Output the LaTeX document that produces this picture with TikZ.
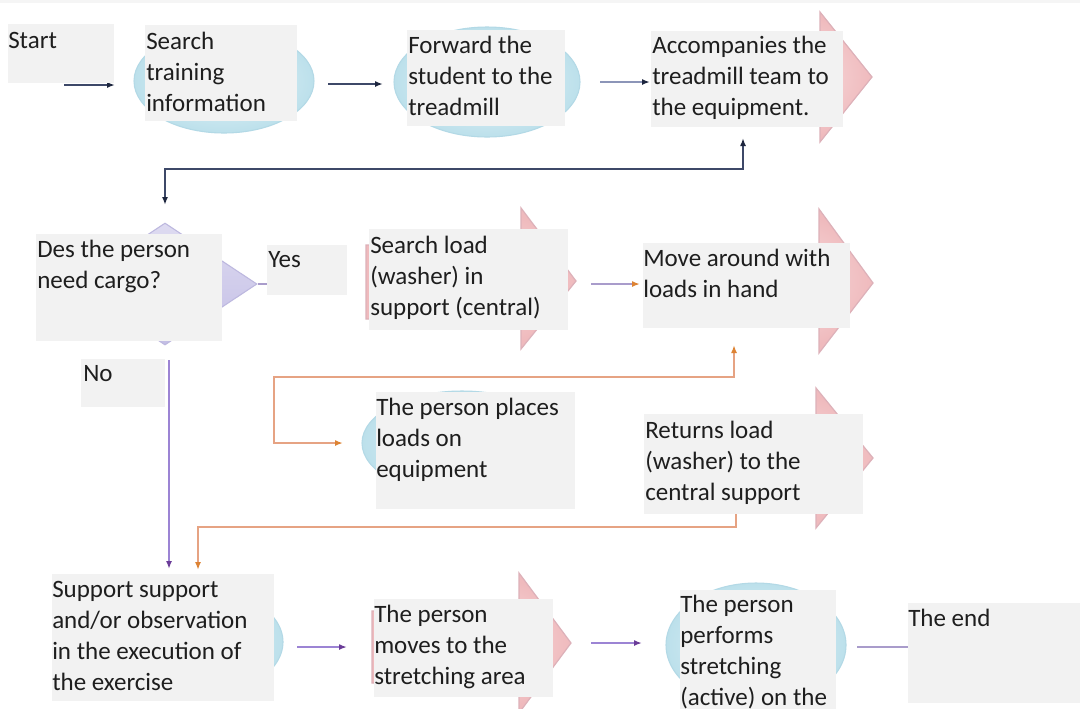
\documentclass[tikz,border=0pt]{standalone}
\usepackage{fontspec}
\setmainfont{Carlito}
\usetikzlibrary{shapes.geometric,arrows.meta,calc}
\definecolor{boxgray}{HTML}{F2F2F2}
\definecolor{txtc}{HTML}{1E1E1E}
\definecolor{ellin}{HTML}{E8F5F9}
\definecolor{ellout}{HTML}{BCE0EB}
\definecolor{elldraw}{HTML}{B3D9E6}
\definecolor{pinkfill}{HTML}{EFBABD}
\definecolor{pinkin}{HTML}{FAE5E5}
\definecolor{pinkdraw}{HTML}{DDB1B9}
\definecolor{lavtop}{HTML}{DEDBF1}
\definecolor{lavbot}{HTML}{C3BEE5}
\definecolor{lavdraw}{HTML}{BDB8DF}
\definecolor{navyline}{HTML}{3D4868}
\definecolor{navyhead}{HTML}{1D263F}
\definecolor{grayblue}{HTML}{8C95B8}
\definecolor{orline}{HTML}{E6A383}
\definecolor{orhead}{HTML}{DD8334}
\definecolor{purline}{HTML}{9C84D4}
\definecolor{purhead}{HTML}{6B3C98}
\definecolor{lavline}{HTML}{A99CCB}
\newcommand{\gbox}[8]{%
  \pgfmathsetmacro\gbw{(#4-#2)*0.75}%
  \pgfmathsetmacro\gbh{(#5-#3)*0.75}%
  \node[gbx, minimum width=\gbw pt, minimum height=\gbh pt] (#1) at (#2,#3) {};%
  \node[gtx] (#1-t) at (#6,#7-23.5) {\strut #8};%
}
\tikzset{
  gbx/.style={anchor=north west, fill=boxgray, inner sep=0pt, outer sep=0pt, draw=none},
  gtx/.style={anchor=north west, inner sep=0pt, align=left, text=txtc,
    font=\fontsize{18.75pt}{23.25pt}\selectfont},
  ell/.style={ellipse, inner sep=0pt, draw=elldraw, line width=0.8pt, inner color=ellin, outer color=ellout},
  pinkarrow/.style={inner color=pinkin, outer color=pinkfill, draw=pinkdraw, line width=0.9pt, line join=miter},
  dia/.style={diamond, inner sep=0pt, aspect=1.5, draw=lavdraw, line width=0.8pt, top color=lavtop, bottom color=lavbot},
  navyarr/.style={draw=navyline, line width=1.2pt, -{Latex[length=6pt,width=4.5pt,color=navyhead]}},
  navyboth/.style={draw=navyline, line width=1.2pt, {Latex[length=6pt,width=4.5pt,color=navyhead]}-{Latex[length=6pt,width=4.5pt,color=navyhead]}},
  grayarr/.style={draw=grayblue, line width=1.2pt, -{Latex[length=6pt,width=4.5pt,color=navyhead]}},
  orboth/.style={draw=orline, line width=1.2pt, {Latex[length=6pt,width=4.5pt,color=orhead]}-{Latex[length=6pt,width=4.5pt,color=orhead]}},
  orarr/.style={draw=orline, line width=1.2pt, -{Latex[length=6pt,width=4.5pt,color=orhead]}},
  lavor/.style={draw=lavline, line width=1.2pt, -{Latex[length=6pt,width=4.5pt,color=orhead]}},
  purarr/.style={draw=purline, line width=1.2pt, -{Latex[length=6pt,width=4.5pt,color=purhead]}},
  lavplain/.style={draw=lavline, line width=1.2pt},
}
\begin{document}
\begin{tikzpicture}[x=0.75pt,y=-0.75pt]
\useasboundingbox (0,0) rectangle (1080,708);
\fill[white] (0,0) rectangle (1080,708);
\fill[black!4] (0,0) rectangle (1080,3);

% ---- background shapes ----
\node[ell, minimum width=135pt, minimum height=78pt] (e-search) at (224,81) {};
\node[ell, minimum width=139.5pt, minimum height=82.5pt] (e-forward) at (487,82) {};
\node[ell, minimum width=150pt, minimum height=78pt] (e-places) at (462,443) {};
\node[ell, minimum width=150pt, minimum height=87pt] (e-support) at (183,642) {};
\node[ell, minimum width=135pt, minimum height=93pt] (e-perf) at (756,645) {};

\node[dia, minimum width=138pt, minimum height=91.5pt] (dia) at (165,284) {};

% pink block arrows
\path[pinkarrow] (700,45) -- (820,45) -- (820,12) -- (872,77) -- (820,142) -- (820,110) -- (700,110) -- cycle;
\path[pinkarrow] (366,245) -- (521,245) -- (521,208) -- (576,281) -- (521,349) -- (521,319) -- (366,319) -- cycle;
\path[pinkarrow] (660,250) -- (819,250) -- (819,209) -- (873,283) -- (819,353) -- (819,316) -- (660,316) -- cycle;
\path[pinkarrow] (660,420) -- (816,420) -- (816,388) -- (873,458) -- (816,528) -- (816,500) -- (660,500) -- cycle;
\path[pinkarrow] (372,611) -- (519,611) -- (519,573) -- (571,643) -- (519,713) -- (519,683) -- (372,683) -- cycle;

% ---- connector end points ----
\coordinate (c1a) at (64,85);   \coordinate (c1b) at (115,85);
\coordinate (c2a) at (328,84);  \coordinate (c2b) at (383,84);
\coordinate (c3a) at (600,82);  \coordinate (c3b) at (650,82);
\coordinate (c4a) at (743,138); \coordinate (c4b) at (165,205);
\coordinate (c6a) at (591,284); \coordinate (c6b) at (640,284);
\coordinate (c7a) at (734,345); \coordinate (c7b) at (343,443);
\coordinate (c8a) at (736,512); \coordinate (c8b) at (198,570);
\coordinate (c9a) at (169,360); \coordinate (c9b) at (169,569);
\coordinate (c10a) at (297,647); \coordinate (c10b) at (347,647);
\coordinate (c11a) at (591,643); \coordinate (c11b) at (642,643);
\coordinate (c12a) at (857,647); \coordinate (c12b) at (908,647);

% ---- connectors ----
\draw[navyarr] (c1a) -- (c1b);
\draw[navyarr] (c2a) -- (c2b);
\draw[grayarr] (c3a) -- (c3b);
\draw[navyboth] (c4a) -- (743,169) -- (165,169) -- (c4b);
\draw[lavor] (c6a) -- (c6b);
\draw[orboth] (c7a) -- (734,377) -- (274,377) -- (274,443) -- (c7b);
\draw[orarr] (c8a) -- (736,527) -- (198,527) -- (c8b);
\draw[purarr] (c9a) -- (c9b);
\draw[purarr] (c10a) -- (c10b);
\draw[purarr] (c11a) -- (c11b);
\draw[lavplain] (c12a) -- (c12b);

% ---- text boxes ----
\gbox{start}{7.6}{24}{114}{83}{8}{50}{Start}
\gbox{search}{145}{25}{297}{121}{146}{51}{Search\\training\\information}
\gbox{forward}{407}{30}{565}{126}{408}{55}{Forward the\\student to the\\treadmill}
\gbox{acc}{651}{31}{843}{127}{652}{55}{Accompanies the\\treadmill team to\\the equipment.}
\gbox{des}{36}{234}{222}{341}{37}{259}{Des the person\\need cargo?}
\gbox{yes}{267}{245}{347}{295}{268}{269}{Yes}
\draw[lavplain, line width=0.8pt] (dia.east) -- (dia.east -| yes.west);
\gbox{sload}{369}{229}{568}{330}{370}{255}{Search load\\(washer) in\\support (central)}
\gbox{move}{643}{243}{850}{328}{643}{268}{Move around with\\loads in hand}
\gbox{no}{81}{359}{165}{407}{83}{383}{No}
\gbox{places}{376}{392}{575}{509}{376}{417}{The person places\\loads on\\equipment}
\gbox{returns}{644}{414}{863}{514}{645}{440}{Returns load\\(washer) to the\\central support}
\gbox{support}{52}{574}{274}{701}{52}{599}{Support support\\and/or observation\\in the execution of\\the exercise}
\gbox{starea}{374}{599}{553}{697}{374}{624}{The person\\moves to the\\stretching area}
\gbox{perf}{680}{590}{836}{720}{680}{614}{The person\\performs\\stretching\\(active) on the}
\gbox{theend}{908}{603}{1085}{703}{908}{628}{The end}
\end{tikzpicture}
\end{document}
